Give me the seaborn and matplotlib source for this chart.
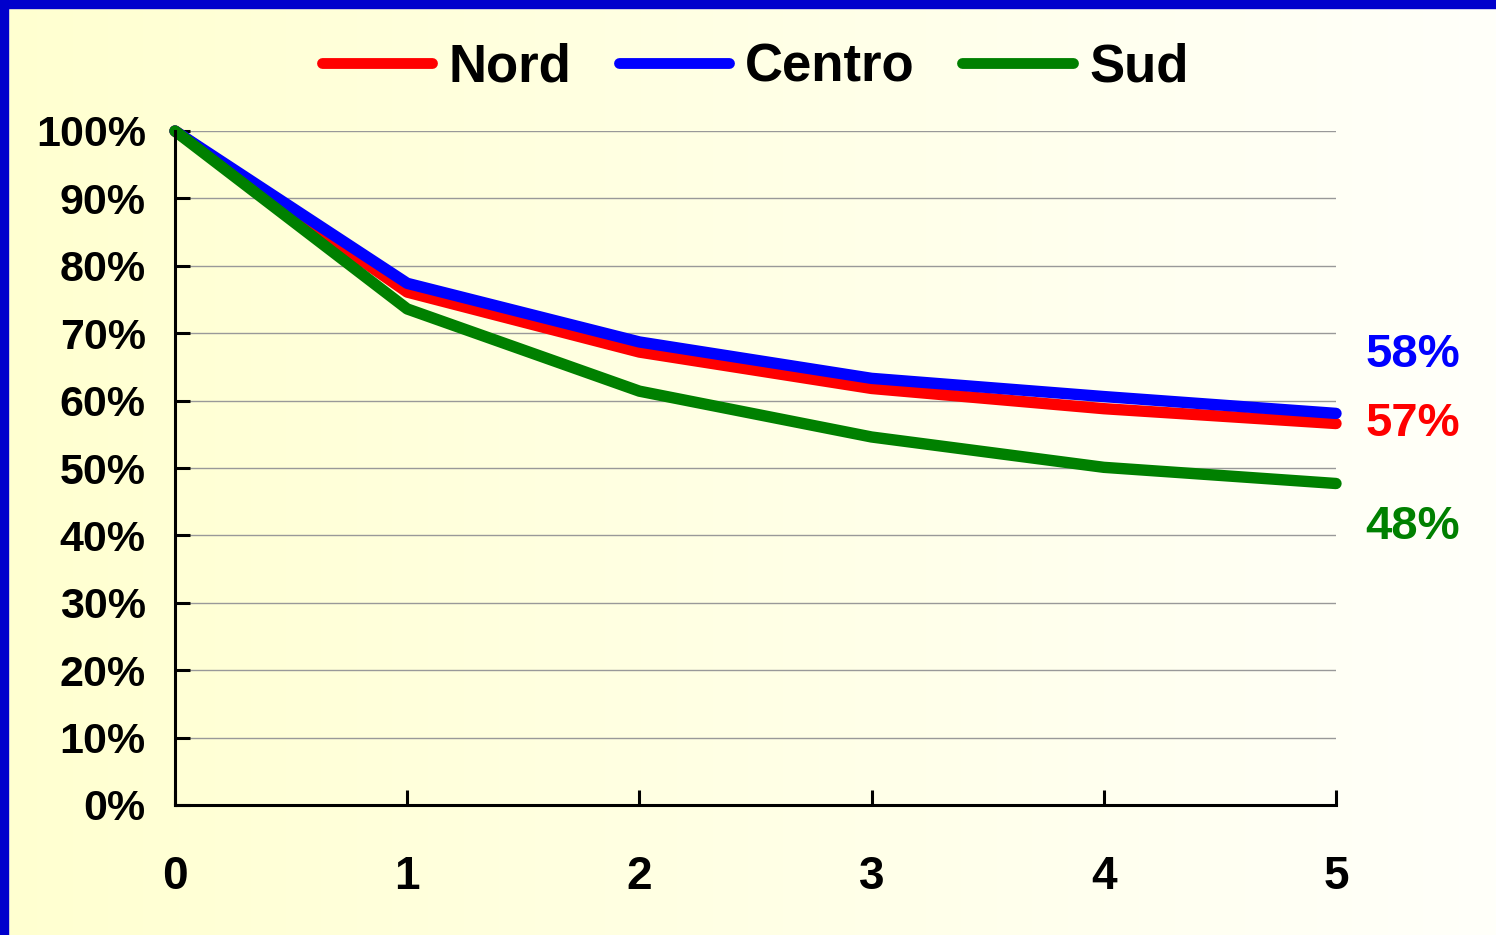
import numpy as np
import pandas as pd
import matplotlib
matplotlib.use("Agg")
import matplotlib.pyplot as plt
from matplotlib.patches import Rectangle
from matplotlib.ticker import FixedLocator, FuncFormatter
import seaborn as sns

# Share of cohort remaining, by year since start
years = [0, 1, 2, 3, 4, 5]
nord = [1.00, 0.761, 0.672, 0.618, 0.588, 0.566]
centro = [1.00, 0.774, 0.687, 0.633, 0.606, 0.581]
sud = [1.00, 0.736, 0.614, 0.546, 0.501, 0.477]
regions = ["Nord", "Centro", "Sud"]
colors = ["#FF0000", "#0000FF", "#008000"]
y_ticks = [0.0, 0.1, 0.2, 0.3, 0.4, 0.5, 0.6, 0.7, 0.8, 0.9, 1.0]

df = pd.DataFrame({
    "anno": years * 3,
    "quota": nord + centro + sud,
    "area": ["Nord"] * len(years) + ["Centro"] * len(years) + ["Sud"] * len(years),
})

sns.set_theme(style="white")
plt.rcParams["font.family"] = ["Liberation Sans", "DejaVu Sans"]
plt.rcParams["font.weight"] = "bold"
plt.rcParams["text.color"] = "black"
plt.rcParams["xtick.color"] = "black"
plt.rcParams["ytick.color"] = "black"

fig = plt.figure(figsize=(14.96, 9.35), dpi=100)

# soft yellow-to-white background across the whole slide
bg = fig.add_axes([0, 0, 1, 1], zorder=-10)
grad = np.linspace(0, 1, 512)[None, :]
c0 = np.array([255, 255, 208]) / 255
c1 = np.array([255, 255, 250]) / 255
img = c0[None, None, :] * (1 - grad[..., None]) + c1[None, None, :] * grad[..., None]
bg.imshow(img, aspect="auto", extent=[0, 1, 0, 1])
bg.set_axis_off()

# blue frame on the top and left edges
fig.patches.append(Rectangle((0, 1 - 8 / 935), 1, 8 / 935, transform=fig.transFigure,
                             color="#0000CC", zorder=10))
fig.patches.append(Rectangle((0, 0), 8 / 1496, 1, transform=fig.transFigure,
                             color="#0000CC", zorder=10))

ax = fig.add_axes([175 / 1496, 130 / 935, (1336 - 175) / 1496, (805 - 131) / 935])
ax.set_facecolor("none")

sns.lineplot(data=df, x="anno", y="quota", hue="area", hue_order=regions,
             palette=colors, linewidth=8.2, ax=ax, legend=True,
             solid_capstyle="round", clip_on=False)

ax.set_xlim(0, 5)
ax.set_ylim(0, 1)
ax.yaxis.set_major_locator(FixedLocator(y_ticks))
ax.yaxis.set_major_formatter(FuncFormatter(lambda v, p: f"{v * 100:.0f}%"))
ax.set_xticks(years)
ax.grid(axis="y", color="#999999", linewidth=1.0)
ax.grid(axis="x", visible=False)
ax.set_axisbelow(True)
for side in ["top", "right"]:
    ax.spines[side].set_visible(False)
for side in ["left", "bottom"]:
    ax.spines[side].set_color("black")
    ax.spines[side].set_linewidth(2.2)
ax.tick_params(axis="y", direction="in", length=11, width=2.2, color="black",
               labelcolor="black", labelsize=31, pad=21, left=True)
ax.tick_params(axis="x", direction="in", length=11, width=2.2, color="black",
               labelcolor="black", labelsize=33, pad=36, bottom=True)
for lab in ax.get_xticklabels() + ax.get_yticklabels():
    lab.set_fontweight("bold")
ax.set_xlabel("")
ax.set_ylabel("")

# end-of-line value labels
ends = {"Nord": nord[-1], "Centro": centro[-1], "Sud": sud[-1]}
offsets = {"Nord": 0, "Centro": 42, "Sud": -31}
for reg, col in zip(regions, colors):
    v = ends[reg]
    ax.annotate(f"{v * 100:.0f}%", xy=(years[-1], v), xytext=(55, offsets[reg]),
                textcoords="offset points", ha="center", va="center",
                fontsize=34, fontweight="bold", color=col, annotation_clip=False)

leg = ax.legend(loc="center", bbox_to_anchor=(755 / 1496, 1 - 67 / 935),
                bbox_transform=fig.transFigure, ncol=3, frameon=False,
                fontsize=38, handlelength=2.1, handletextpad=0.3,
                columnspacing=0.9, title=None)
for t in leg.get_texts():
    t.set_fontweight("bold")
    t.set_color("black")
for h in leg.legend_handles:
    h.set_linewidth(7.8)
    h.set_solid_capstyle("round")

fig.savefig("out.png", dpi=100)
